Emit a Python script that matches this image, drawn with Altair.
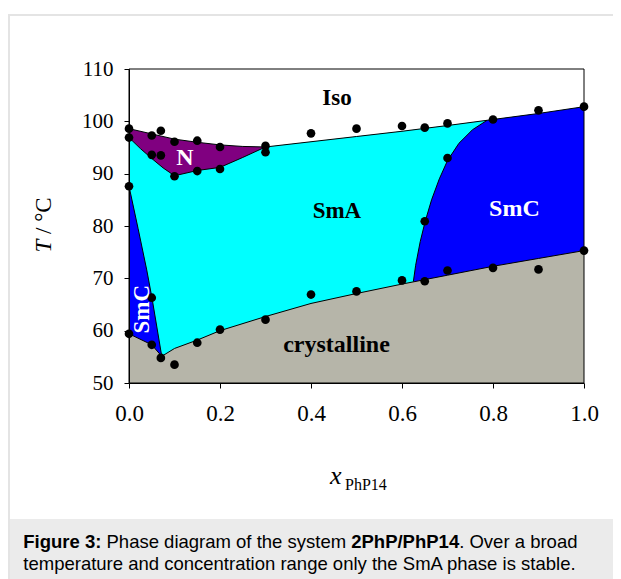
import altair as alt
import pandas as pd

# ---------------- data ----------------
# upper boundary (Iso above N / SmA / SmC)
top_x = [0.0, 0.05, 0.1, 0.15, 0.2, 0.25, 0.3, 0.4, 0.5, 0.6, 0.7, 0.787, 0.9, 1.0]
top_T = [98.6, 97.6, 96.6, 96.0, 95.5, 95.2, 95.1, 96.1, 97.1, 98.1, 99.2, 100.2, 101.5, 102.8]
# N / SmA boundary
nbot_x = [0.0, 0.025, 0.05, 0.075, 0.1, 0.15, 0.2, 0.25, 0.3]
nbot_T = [96.9, 94.8, 92.9, 91.1, 89.6, 90.6, 91.2, 93.1, 95.1]
# SmC / SmA boundary (left)
smcL_x = [0.0, 0.02, 0.039, 0.051, 0.072]
smcL_T = [87.6, 79.5, 71.6, 66.0, 55.1]
# SmA / SmC boundary (right)
smcR_x = [0.625, 0.63, 0.64, 0.651, 0.665, 0.682, 0.70, 0.725, 0.755, 0.787]
smcR_T = [69.4, 72.5, 77.0, 80.9, 85.0, 89.0, 92.5, 95.8, 98.4, 100.2]
# crystalline boundary
cry_x = [0.0, 0.05, 0.072, 0.1, 0.15, 0.2, 0.3, 0.4, 0.5, 0.6, 0.7, 0.8, 0.9, 1.0]
cry_T = [59.4, 57.3, 55.1, 56.6, 58.2, 60.0, 62.7, 65.2, 67.1, 68.9, 70.6, 72.3, 73.8, 75.3]
# measured transition points
pts_x = [0.0, 0.0, 0.0, 0.0,
         0.05, 0.05, 0.05, 0.05,
         0.07, 0.07, 0.07,
         0.1, 0.1, 0.1,
         0.15, 0.15, 0.15,
         0.2, 0.2, 0.2,
         0.3, 0.3, 0.3,
         0.4, 0.4,
         0.5, 0.5,
         0.6, 0.6,
         0.65, 0.65, 0.65,
         0.7, 0.7, 0.7,
         0.8, 0.8,
         0.9, 0.9,
         1.0, 1.0]
pts_T = [98.6, 96.9, 87.6, 59.4,
         97.3, 93.6, 66.3, 57.3,
         98.2, 93.5, 54.8,
         96.1, 89.5, 53.5,
         96.3, 90.5, 57.7,
         95.1, 90.9, 60.2,
         95.3, 94.1, 62.1,
         97.7, 66.9,
         98.6, 67.5,
         99.1, 69.6,
         98.8, 80.9, 69.45,
         99.6, 93.0, 71.5,
         100.35, 72.0,
         102.1, 71.7,
         102.8, 75.3]
x_ticks = [0.0, 0.2, 0.4, 0.6, 0.8, 1.0]
y_ticks = [50, 60, 70, 80, 90, 100, 110]

phase_black = pd.DataFrame({"x": [0.457, 0.457], "T": [104.4, 82.9], "label": ["Iso", "SmA"]})
phase_white = pd.DataFrame({"x": [0.123, 0.847], "T": [93.0, 83.2], "label": ["N", "SmC"]})
phase_cry = pd.DataFrame({"x": [0.456], "T": [56.0], "label": ["crystalline"]})
phase_rot = pd.DataFrame({"x": [0.0286], "T": [64.1], "label": ["SmC"]})

# ---------------- tables ----------------
top = pd.DataFrame({"x": top_x, "T": top_T})
nbot = pd.DataFrame({"x": nbot_x, "T": nbot_T})
sma_top = pd.concat([nbot, top[top["x"] > 0.3]], ignore_index=True)
smcL = pd.DataFrame({"x": smcL_x, "T": smcL_T})
smcR = pd.DataFrame({"x": smcR_x, "T": smcR_T})
smcR_area = pd.concat([smcR, top[top["x"] > 0.787]], ignore_index=True)
cry = pd.DataFrame({"x": cry_x, "T": cry_T})
pts = pd.DataFrame({"x": pts_x, "T": pts_T})

W, H = 455, 314
SERIF = "Liberation Serif"
SANS = "Liberation Sans"

xs = alt.Scale(domain=[0, 1], nice=False, zero=False)
ys = alt.Scale(domain=[50, 110], nice=False, zero=False)
xaxis = alt.Axis(values=x_ticks, format=".1f", title=None, grid=False, domainColor="black",
                 tickColor="black", tickSize=5, labelFont=SERIF, labelFontSize=23,
                 labelColor="black", labelPadding=14, labelFlush=False, zindex=1)
yaxis = alt.Axis(values=y_ticks, title=None, grid=False, domainColor="black",
                 tickColor="black", tickSize=5, labelFont=SERIF, labelFontSize=21,
                 labelColor="black", labelPadding=11, labelFlush=False, zindex=1)

X = alt.X("x:Q", scale=xs, axis=xaxis)
Y = alt.Y("T:Q", scale=ys, axis=yaxis)


def area(df, color):
    return alt.Chart(df).mark_area(color=color, opacity=1, interpolate="linear").encode(
        x=X, y=Y, y2=alt.datum(50))


def line(df):
    return alt.Chart(df).mark_line(color="black", strokeWidth=1, interpolate="linear").encode(
        x=X, y=Y)


dummy = pd.DataFrame({"d": [0]})


def text_px(txt, x, y, size, bold=False, color="black", font=SANS, align="left",
            baseline="alphabetic", angle=0, italic=False):
    kw = dict(text=txt, fontSize=size, color=color, font=font, align=align,
              baseline=baseline, fontWeight="bold" if bold else "normal")
    if angle:
        kw["angle"] = angle
    if italic:
        kw["fontStyle"] = "italic"
    return alt.Chart(dummy).mark_text(**kw).encode(x=alt.value(x), y=alt.value(y))


# page decorations (pixel positions relative to plot origin at page (129, 69))
RIGHT = 484
caption_box = alt.Chart(dummy).mark_rect(color="#EBEBEB").encode(
    x=alt.value(-121), x2=alt.value(RIGHT), y=alt.value(450), y2=alt.value(510))
border_left = alt.Chart(dummy).mark_rect(color="#E4E4E4").encode(
    x=alt.value(-121), x2=alt.value(-119), y=alt.value(-55), y2=alt.value(510))
border_top = alt.Chart(dummy).mark_rect(color="#E4E4E4").encode(
    x=alt.value(-121), x2=alt.value(RIGHT), y=alt.value(-55), y2=alt.value(-53))

cap_size = 18.5
captions = [
    text_px("Figure 3:", -105.7, 479.3, cap_size, bold=True),
    text_px("Phase diagram of the system", -22.5, 479.3, cap_size),
    text_px("2PhP/PhP14", 222.2, 479.3, cap_size, bold=True),
    text_px(". Over a broad", 330.2, 479.3, cap_size),
    text_px("temperature and concentration range only the SmA phase is stable.", -105.7, 500.5, cap_size),
]

titles = [
    text_px("T", -85, 183.6, 23, font=SERIF, italic=True, angle=270, baseline="middle"),
    text_px("/ °C", -85, 165, 23, font=SERIF, angle=270, baseline="middle"),
    text_px("x", 201, 415, 26, font=SERIF, italic=True),
    text_px("PhP14", 216, 421, 16, font=SERIF),
]

labels_black = alt.Chart(phase_black).mark_text(
    font=SERIF, fontSize=23, fontWeight="bold", color="black", baseline="middle").encode(
    x=alt.X("x:Q", scale=xs), y=alt.Y("T:Q", scale=ys), text="label:N")
labels_white = alt.Chart(phase_white).mark_text(
    font=SERIF, fontSize=24, fontWeight="bold", color="white", baseline="middle").encode(
    x=alt.X("x:Q", scale=xs), y=alt.Y("T:Q", scale=ys), text="label:N")
labels_cry = alt.Chart(phase_cry).mark_text(
    font=SERIF, fontSize=24, fontWeight="bold", color="black", baseline="alphabetic").encode(
    x=alt.X("x:Q", scale=xs), y=alt.Y("T:Q", scale=ys), text="label:N")
labels_rot = alt.Chart(phase_rot).mark_text(
    font=SERIF, fontSize=23, fontWeight="bold", color="white", baseline="middle", angle=270).encode(
    x=alt.X("x:Q", scale=xs), y=alt.Y("T:Q", scale=ys), text="label:N")

points = alt.Chart(pts).mark_circle(size=75, color="black", opacity=1).encode(x=X, y=Y)

frame = alt.Chart(dummy).mark_rect(fill=None, stroke="black", strokeWidth=1).encode(
    x=alt.value(0), x2=alt.value(W), y=alt.value(0), y2=alt.value(H))

chart = alt.layer(
    caption_box, border_left, border_top,
    area(top, "#00FFFF"),
    area(top[top["x"] <= 0.3], "#800080"),
    area(sma_top, "#00FFFF"),
    area(smcL, "#0000FF"),
    area(smcR_area, "#0000FF"),
    area(cry, "#B6B5A9"),
    line(top), line(nbot), line(smcL), line(smcR), line(cry),
    points,
    labels_black, labels_white, labels_cry, labels_rot,
    frame,
    *titles,
    *captions,
).properties(
    width=W, height=H,
    autosize=alt.AutoSizeParams(type="none"),
    padding={"left": 121, "top": 61, "right": 29, "bottom": 196},
    background="white",
).configure_view(stroke=None)

chart.save("out.html", embed_options={"renderer": "svg", "actions": False})
